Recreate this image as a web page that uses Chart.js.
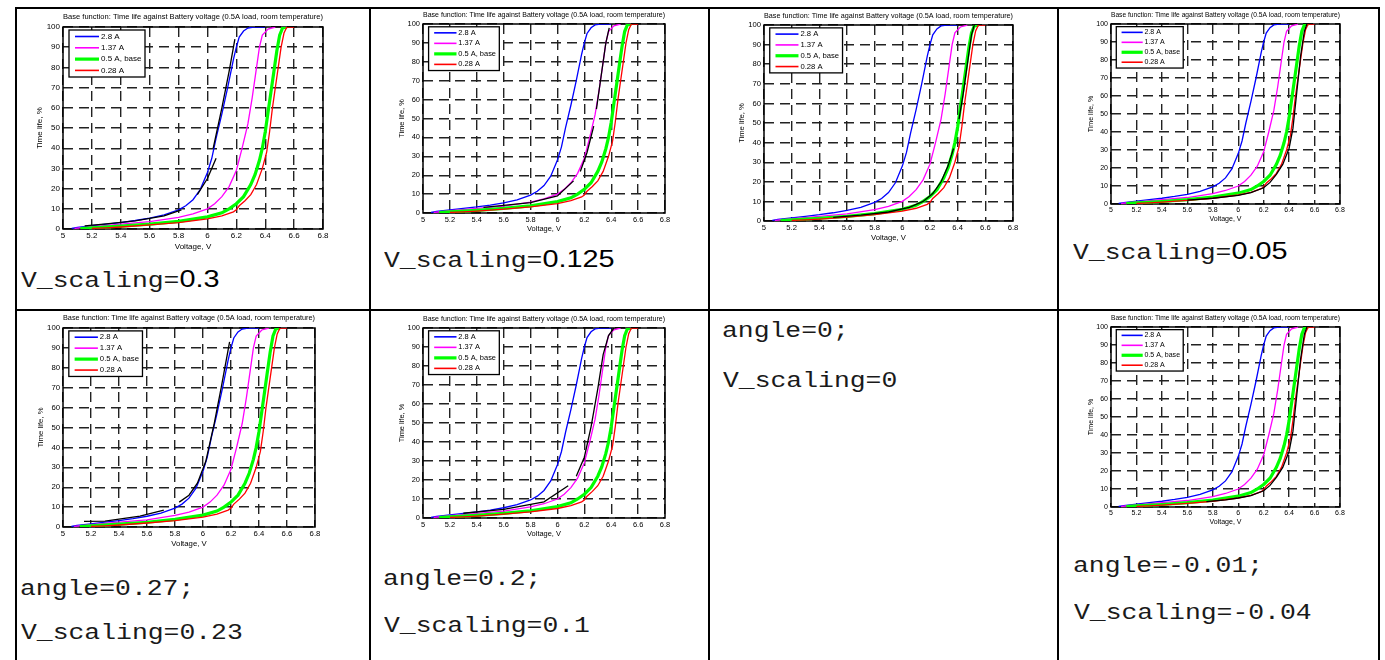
<!DOCTYPE html>
<html>
<head>
<meta charset="utf-8">
<script src="https://cdn.jsdelivr.net/npm/chart.js@4.4.0/dist/chart.umd.min.js"></script>
<style>
  html, body { margin: 0; padding: 0; background: #fff; }
  body { width: 1385px; height: 660px; position: relative; overflow: hidden; }
  .ln { position: absolute; background: #000; }
  canvas { position: absolute; }
  .txt {
    position: absolute; white-space: nowrap; color: #1a1a1a;
    font-family: "Courier New", "Liberation Mono", monospace;
    font-size: 22px; line-height: 22px;
    transform: scaleX(1.2); transform-origin: 0 0;
  }
  .txt .num { font-family: Arial, "Liberation Sans", sans-serif; font-size: 24px; line-height: 0; color: #000; }
</style>
</head>
<body>
<!-- table rules -->
<div class="ln" style="left:15px;top:7px;width:1365px;height:2px"></div>
<div class="ln" style="left:15px;top:309px;width:1365px;height:2px"></div>
<div class="ln" style="left:15px;top:7px;width:2px;height:660px"></div>
<div class="ln" style="left:369px;top:7px;width:2px;height:660px"></div>
<div class="ln" style="left:708px;top:7px;width:2px;height:660px"></div>
<div class="ln" style="left:1057px;top:7px;width:2px;height:660px"></div>
<div class="ln" style="left:1378px;top:7px;width:2px;height:660px"></div>

<!-- cell captions -->
<div class="txt" style="left:21px;top:271px">V_scaling=<span class="num">0.3</span></div>
<div class="txt" style="left:384px;top:251px">V_scaling=<span class="num">0.125</span></div>
<div class="txt" style="left:1073px;top:243px">V_scaling=<span class="num">0.05</span></div>
<div class="txt" style="left:722px;top:321px">angle=0;</div>
<div class="txt" style="left:723px;top:371px">V_scaling=0</div>
<div class="txt" style="left:20px;top:579px">angle=0.27;</div>
<div class="txt" style="left:21px;top:623px">V_scaling=0.23</div>
<div class="txt" style="left:383px;top:569px">angle=0.2;</div>
<div class="txt" style="left:384px;top:616px">V_scaling=0.1</div>
<div class="txt" style="left:1073px;top:556px">angle=-0.01;</div>
<div class="txt" style="left:1074px;top:603px">V_scaling=-0.04</div>

<script>
// axis ticks
const xTicks = [5, 5.2, 5.4, 5.6, 5.8, 6, 6.2, 6.4, 6.6, 6.8];
const xTickLabels = ['5', '5.2', '5.4', '5.6', '5.8', '6', '6.2', '6.4', '6.6', '6.8'];
const yTicks = [0, 10, 20, 30, 40, 50, 60, 70, 80, 90, 100];
const yTickLabels = ['0', '10', '20', '30', '40', '50', '60', '70', '80', '90', '100'];

const seriesLabels = ['2.8 A', '1.37 A', '0.5 A, base', '0.28 A'];

// measured curves (voltage, time life %) - same in every panel
const v28 = [5.06, 5.1, 5.2, 5.3, 5.4, 5.5, 5.6, 5.7, 5.8, 5.85, 5.9, 5.95, 6.0, 6.03, 6.06, 6.1, 6.14, 6.18, 6.2, 6.22, 6.25, 6.28, 6.32, 6.4];
const t28 = [0.3, 0.8, 1.6, 2.4, 3.2, 4.2, 5.4, 7, 9.5, 11.5, 14.5, 19.5, 28, 35, 45, 57, 70, 84, 90, 95, 98, 99.5, 100, 100];

const v137 = [5.08, 5.2, 5.4, 5.6, 5.8, 5.9, 6.0, 6.05, 6.1, 6.15, 6.2, 6.24, 6.28, 6.31, 6.34, 6.36, 6.38, 6.42, 6.47];
const t137 = [0.3, 1.2, 2.4, 3.6, 5.8, 7.5, 10, 12.5, 16, 21, 29, 40, 52, 65, 80, 90, 96, 99, 100];

const v05 = [5.12, 5.2, 5.4, 5.6, 5.8, 6.0, 6.1, 6.15, 6.2, 6.25, 6.3, 6.33, 6.36, 6.38, 6.4, 6.42, 6.44, 6.46, 6.48, 6.5, 6.52, 6.55];
const t05 = [0.2, 0.6, 1.4, 2.4, 3.8, 6, 8, 10, 12.5, 16, 22, 27, 34, 40, 48, 58, 68, 78, 88, 96, 99.5, 100];

const v028 = [5.2, 5.3, 5.4, 5.6, 5.8, 6.0, 6.1, 6.18, 6.2, 6.22, 6.26, 6.3, 6.34, 6.38, 6.41, 6.43, 6.45, 6.47, 6.49, 6.51, 6.53, 6.55, 6.6];
const t028 = [0.3, 0.6, 1, 2, 3.2, 5, 6.5, 8.5, 9.5, 11.5, 14, 17, 22, 30, 38, 48, 60, 70, 80, 90, 97, 100, 100];

// black model curves per panel (null = break in the line)
const fitAv = [5.15, 5.3, 5.5, 5.7, 5.82, null, 5.93, 6.0, 6.06, null, 6.04, 6.1, 6.15, 6.19];
const fitAt = [1.5, 2.5, 4, 6.5, 9.5, null, 17, 25, 35, null, 40, 60, 78, 94];
const fitBv = [5.45, 5.6, 5.8, 6.0, 6.12, null, 6.17, 6.22, 6.27, null, 6.29, 6.33, 6.36, 6.385];
const fitBt = [3, 4, 5.5, 9, 17, null, 22, 32, 46, null, 55, 75, 90, 98];
const fitCv = [5.5, 5.7, 5.9, 6.05, 6.15, 6.22, 6.28, 6.33, 6.37, null, 6.41, 6.44, 6.47, 6.5, 6.52];
const fitCt = [1.8, 3, 4.6, 7, 10, 14, 20, 28, 37, null, 52, 65, 80, 95, 100];
const fitDv = [5.6, 5.8, 6.0, 6.1, 6.2, 6.25, 6.3, 6.35, 6.4, 6.43, 6.46, 6.49, 6.52, 6.54];
const fitDt = [2.2, 3.2, 4.8, 6.3, 9, 12, 16.5, 22, 31, 42, 62, 82, 96, 100];
const fitEv = [5.15, 5.3, 5.4, 5.55, 5.72, null, 5.83, 5.9, 5.96, 6.02, 6.08, 6.13, 6.19];
const fitEt = [2.8, 3, 4, 5.5, 8.5, null, 12.5, 16, 22, 33, 52, 70, 93];
const fitFv = [5.3, 5.6, 5.9, 6.08, null, 6.14, 6.2, 6.25, 6.3, 6.34, 6.38, 6.42];
const fitFt = [2.5, 4.5, 8.5, 17, null, 22, 32, 48, 68, 86, 96, 100];
const fitGv = [5.75, 5.9, 6.0, 6.1, 6.2, 6.25, 6.3, 6.35, 6.4, 6.43, 6.46, 6.49, 6.52, 6.54];
const fitGt = [3, 4, 5, 6.3, 9, 12, 16.5, 22, 31, 42, 62, 82, 96, 100];

const chartTitle = 'Base function: Time life against Battery voltage (0.5A load, room temperature)';
const xTitle = 'Voltage, V';
const yTitle = 'Time life, %';

// where each panel's plot box sits on the page [left, top, right, bottom]
const panels = [
    { rect: [63, 27, 323, 229], fitV: fitAv, fitT: fitAt },
    { rect: [423, 24, 665, 213], fitV: fitBv, fitT: fitBt },
    { rect: [764, 25, 1013, 221], fitV: fitCv, fitT: fitCt },
    { rect: [1111, 24, 1340, 204], fitV: fitDv, fitT: fitDt },
    { rect: [63, 328, 315, 527], fitV: fitEv, fitT: fitEt },
    { rect: [423, 328, 665, 518], fitV: fitFv, fitT: fitFt },
    { rect: [1111, 327, 1340, 507], fitV: fitGv, fitT: fitGt }
];

const FONT = 'Arial, "Liberation Sans", sans-serif';
Chart.defaults.font.family = FONT;
Chart.defaults.color = '#000';

function pts(v, t) {
    return v.map((x, i) => ({ x: x === null ? v[i - 1] : x, y: t[i] }));
}

// axes box
const boxPlugin = {
    id: 'box',
    beforeDatasetsDraw(chart) {
        const a = chart.chartArea, c = chart.ctx;
        c.save();
        c.strokeStyle = '#000';
        c.lineWidth = 1.5;
        c.strokeRect(a.left, a.top, a.right - a.left, a.bottom - a.top);
        c.restore();
    }
};

// legend inside the top-left corner, like the matlab one
const insideLegend = {
    id: 'insideLegend',
    afterDraw(chart) {
        const a = chart.chartArea, c = chart.ctx;
        const s = (a.right - a.left) / 260;
        const x0 = a.left + 6 * s, y0 = a.top + 3 * s;
        c.save();
        c.fillStyle = '#fff';
        c.fillRect(x0, y0, 76 * s, 47 * s);
        c.strokeStyle = '#000';
        c.lineWidth = 1.3;
        c.strokeRect(x0, y0, 76 * s, 47 * s);
        c.font = (8 * s) + 'px ' + FONT;
        c.textBaseline = 'middle';
        c.textAlign = 'left';
        chart.data.datasets.filter(d => d.label).forEach((d, i) => {
            const y = y0 + 6.5 * s + i * 11.3 * s;
            c.strokeStyle = d.borderColor;
            c.lineWidth = Math.max(d.borderWidth, 1.6);
            c.beginPath();
            c.moveTo(x0 + 6 * s, y);
            c.lineTo(x0 + 30 * s, y);
            c.stroke();
            c.fillStyle = '#000';
            c.fillText(d.label, x0 + 32 * s, y);
        });
        c.restore();
    }
};

function makeChart(p) {
    const [l, t, r, b] = p.rect;
    const s = (r - l) / 260;
    const fs = 8 * s;
    const lh = fs * 1.2;
    const pb = 10 * s - lh / 2;       // title centre sits ~10px above the box
    const W = 23 * s + lh / 2;        // y axis width
    const H = 17.5 * s + lh / 2;      // x axis height

    const cl = Math.floor(l - W - 4), cr = Math.ceil(r + 16);
    const ct = Math.floor(t - lh - pb - 2), cb = Math.ceil(b + H + 3);

    const canvas = document.createElement('canvas');
    canvas.width = cr - cl;
    canvas.height = cb - ct;
    canvas.style.left = cl + 'px';
    canvas.style.top = ct + 'px';
    document.body.appendChild(canvas);

    const thin = { pointRadius: 0, tension: 0, fill: false, spanGaps: false };

    new Chart(canvas.getContext('2d'), {
        type: 'line',
        data: {
            datasets: [
                { ...thin, label: seriesLabels[0], data: pts(v28, t28), borderColor: '#0000ff', borderWidth: 1.3, order: 4 },
                { ...thin, label: seriesLabels[1], data: pts(v137, t137), borderColor: '#ff00ff', borderWidth: 1.3, order: 3 },
                { ...thin, label: seriesLabels[2], data: pts(v05, t05), borderColor: '#00ff00', borderWidth: 3.2, order: 2 },
                { ...thin, label: seriesLabels[3], data: pts(v028, t028), borderColor: '#ff0000', borderWidth: 1.3, order: 1 },
                { ...thin, label: '', data: pts(p.fitV, p.fitT), borderColor: '#000000', borderWidth: 1.3, order: 0 }
            ]
        },
        options: {
            responsive: false,
            animation: false,
            devicePixelRatio: 1,
            layout: {
                padding: {
                    left: l - W - cl,
                    right: cr - r,
                    top: t - lh - pb - ct,
                    bottom: cb - b - H
                }
            },
            scales: {
                x: {
                    type: 'linear',
                    min: 5,
                    max: 6.8,
                    afterBuildTicks: sc => { sc.ticks = xTicks.map(v => ({ value: v })); },
                    afterFit: sc => { sc.height = H; },
                    ticks: {
                        padding: 2,
                        maxRotation: 0,
                        autoSkip: false,
                        font: { size: fs },
                        color: '#000',
                        callback: (v, i) => xTickLabels[i]
                    },
                    grid: { color: '#222', lineWidth: 1.4, drawTicks: false },
                    border: { display: false, dash: [10, 6] },
                    title: { display: true, text: xTitle, font: { size: fs }, padding: 0, color: '#000' }
                },
                y: {
                    type: 'linear',
                    min: 0,
                    max: 100,
                    afterBuildTicks: sc => { sc.ticks = yTicks.map(v => ({ value: v })); },
                    afterFit: sc => { sc.width = W; },
                    ticks: {
                        padding: 3,
                        autoSkip: false,
                        font: { size: fs },
                        color: '#000',
                        callback: (v, i) => yTickLabels[i]
                    },
                    grid: { color: '#222', lineWidth: 1.4, drawTicks: false },
                    border: { display: false, dash: [10, 6] },
                    title: { display: true, text: yTitle, font: { size: fs }, padding: 0, color: '#000' }
                }
            },
            plugins: {
                legend: { display: false },
                tooltip: { enabled: false },
                title: {
                    display: true,
                    text: chartTitle,
                    fullSize: false,
                    color: '#000',
                    font: { size: fs, weight: 'normal', lineHeight: 1.2 },
                    padding: { top: 0, bottom: pb }
                }
            }
        },
        plugins: [boxPlugin, insideLegend]
    });
}

panels.forEach(makeChart);
</script>
</body>
</html>
